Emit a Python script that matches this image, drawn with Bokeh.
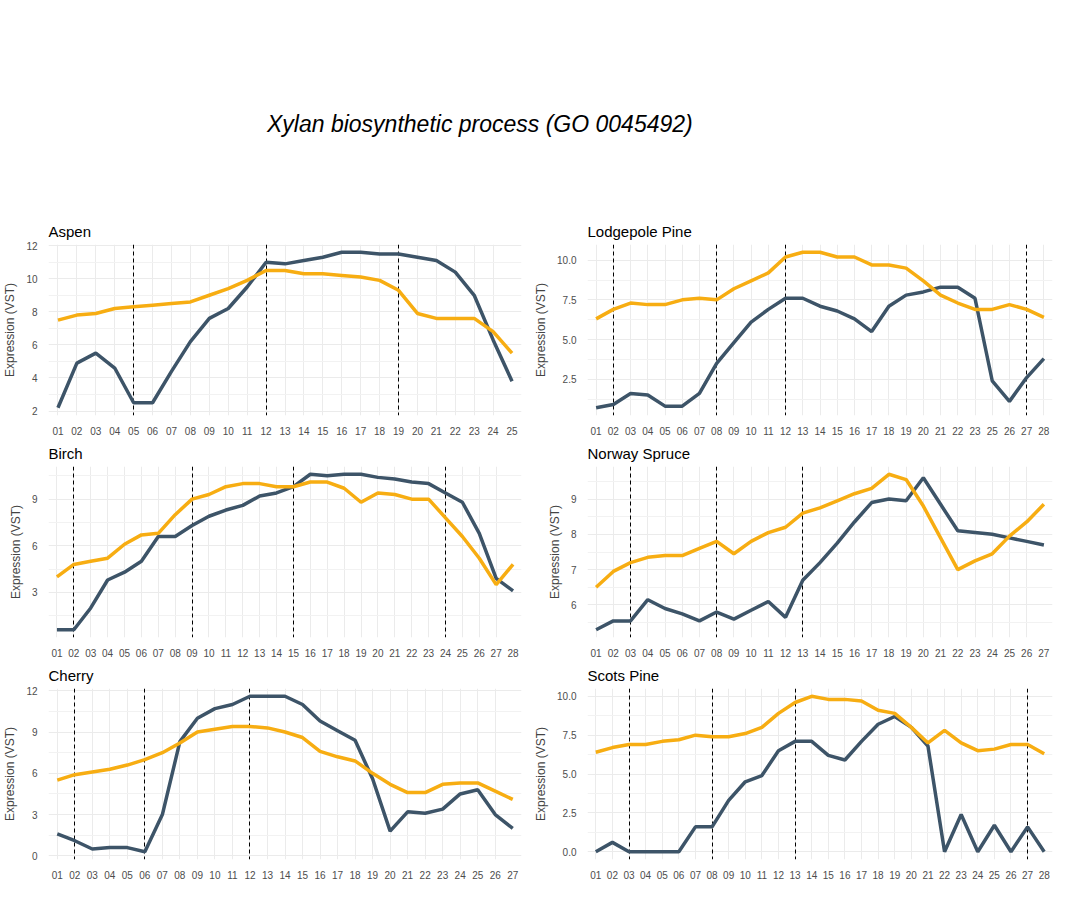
from bokeh.plotting import figure
from bokeh.models import FixedTicker, NumeralTickFormatter, Div, Range1d
from bokeh.layouts import gridplot, column
from bokeh.embed import file_html
from bokeh.resources import INLINE

DARK = "#3d5468"
ORANGE = "#f7ad12"

labels_25 = [f"{i:02d}" for i in range(1, 26)]
labels_27 = [f"{i:02d}" for i in range(1, 28)]
labels_28 = [f"{i:02d}" for i in range(1, 29)]
labels_lodgepole = [f"{i:02d}" for i in range(1, 24)] + ["25", "26", "27", "28"]

aspen_dark = [2.2, 4.9, 5.5, 4.6, 2.5, 2.5, 4.4, 6.2, 7.6, 8.2, 9.5, 11.0, 10.9, 11.1, 11.3, 11.6, 11.6, 11.5, 11.5, 11.3, 11.1, 10.4, 9.0, 6.3, 3.8]
aspen_orange = [7.5, 7.8, 7.9, 8.2, 8.3, 8.4, 8.5, 8.6, 9.0, 9.4, 9.9, 10.5, 10.5, 10.3, 10.3, 10.2, 10.1, 9.9, 9.3, 7.9, 7.6, 7.6, 7.6, 6.8, 5.5]
aspen_vlines = ["05", "12", "19"]

lodge_dark = [0.7, 0.9, 1.6, 1.5, 0.8, 0.8, 1.6, 3.5, 4.8, 6.1, 6.9, 7.6, 7.6, 7.1, 6.8, 6.3, 5.5, 7.1, 7.8, 8.0, 8.3, 8.3, 7.6, 2.4, 1.1, 2.6, 3.8]
lodge_orange = [6.3, 6.9, 7.3, 7.2, 7.2, 7.5, 7.6, 7.5, 8.2, 8.7, 9.2, 10.2, 10.5, 10.5, 10.2, 10.2, 9.7, 9.7, 9.5, 8.7, 7.8, 7.3, 6.9, 6.9, 7.2, 6.9, 6.4]
lodge_vlines = ["02", "08", "12", "27"]

birch_dark = [0.6, 0.6, 2.0, 3.8, 4.3, 5.0, 6.6, 6.6, 7.3, 7.9, 8.3, 8.6, 9.2, 9.4, 9.8, 10.6, 10.5, 10.6, 10.6, 10.4, 10.3, 10.1, 10.0, 9.4, 8.8, 6.8, 3.9, 3.1]
birch_orange = [4.0, 4.8, 5.0, 5.2, 6.1, 6.7, 6.8, 8.0, 9.0, 9.3, 9.8, 10.0, 10.0, 9.8, 9.8, 10.1, 10.1, 9.7, 8.8, 9.4, 9.3, 9.0, 9.0, 7.8, 6.6, 5.2, 3.5, 4.8]
birch_vlines = ["02", "09", "15", "24"]

spruce_dark = [5.3, 5.55, 5.55, 6.15, 5.9, 5.75, 5.55, 5.8, 5.6, 5.85, 6.1, 5.65, 6.7, 7.2, 7.75, 8.35, 8.9, 9.0, 8.95, 9.6, 8.85, 8.1, 8.05, 8.0, 7.9, 7.8, 7.7]
spruce_orange = [6.5, 6.95, 7.2, 7.35, 7.4, 7.4, 7.6, 7.8, 7.45, 7.8, 8.05, 8.2, 8.6, 8.75, 8.95, 9.15, 9.3, 9.7, 9.55, 8.8, 7.9, 7.0, 7.25, 7.45, 7.95, 8.35, 8.85]
spruce_vlines = ["03", "08", "13"]

cherry_dark = [1.6, 1.1, 0.5, 0.6, 0.6, 0.3, 3.0, 8.3, 10.0, 10.7, 11.0, 11.6, 11.6, 11.6, 11.0, 9.8, 9.1, 8.4, 5.6, 1.8, 3.2, 3.1, 3.4, 4.5, 4.8, 3.0, 2.0]
cherry_orange = [5.5, 5.9, 6.1, 6.3, 6.6, 7.0, 7.5, 8.2, 9.0, 9.2, 9.4, 9.4, 9.3, 9.0, 8.6, 7.6, 7.2, 6.9, 6.0, 5.2, 4.6, 4.6, 5.2, 5.3, 5.3, 4.7, 4.1]
cherry_vlines = ["02", "06", "12"]

scots_dark = [0.0, 0.6, 0.0, 0.0, 0.0, 0.0, 1.6, 1.6, 3.3, 4.5, 4.9, 6.5, 7.1, 7.1, 6.2, 5.9, 7.1, 8.2, 8.7, 8.0, 6.8, 0.0, 2.4, 0.0, 1.7, 0.0, 1.6, 0.0]
scots_orange = [6.4, 6.7, 6.9, 6.9, 7.1, 7.2, 7.5, 7.4, 7.4, 7.6, 8.0, 8.9, 9.6, 10.0, 9.8, 9.8, 9.7, 9.1, 8.9, 8.0, 7.0, 7.8, 7.0, 6.5, 6.6, 6.9, 6.9, 6.3]
scots_vlines = ["03", "08", "13", "27"]


def panel(name, x, dark, orange, vlines, ticks, fmt):
    lo = min(dark + orange)
    hi = max(dark + orange)
    pad = (hi - lo) * 0.05
    p = figure(title=name, x_range=x, y_range=Range1d(lo - pad, hi + pad),
               width=531, height=222, output_backend="svg", toolbar_location=None,
               min_border_left=10, min_border_right=10, min_border_top=5, min_border_bottom=8)
    p.title.text_font = "Liberation Sans"
    p.title.text_font_size = "15px"
    p.title.text_font_style = "normal"
    p.title.text_color = "#000000"
    p.outline_line_color = None
    for ax in (p.xaxis, p.yaxis):
        ax.axis_line_color = None
        ax.major_tick_line_color = None
        ax.minor_tick_line_color = None
        ax.major_label_text_font = "Liberation Sans"
        ax.major_label_text_font_size = "10px"
        ax.major_label_text_color = "#4d4d4d"
    p.yaxis.axis_label = "Expression (VST)"
    p.yaxis.axis_label_text_font = "Liberation Sans"
    p.yaxis.axis_label_text_font_style = "normal"
    p.yaxis.axis_label_text_font_size = "12px"
    p.yaxis.axis_label_standoff = 6
    step = ticks[1] - ticks[0]
    minors = [(a + b) / 2 for a, b in zip(ticks[:-1], ticks[1:])] + [ticks[0] - step / 2, ticks[-1] + step / 2]
    p.yaxis.ticker = FixedTicker(ticks=ticks, minor_ticks=minors)
    p.yaxis.formatter = NumeralTickFormatter(format=fmt)
    p.xgrid.grid_line_color = "#ebebeb"
    p.ygrid.grid_line_color = "#ebebeb"
    p.ygrid.minor_grid_line_color = "#f2f2f2"
    p.vspan(x=vlines, line_color="black", line_dash="4 3", line_width=1)
    p.line(x, dark, line_color=DARK, line_width=3.5)
    p.line(x, orange, line_color=ORANGE, line_width=3.5)
    return p


plots = [
    panel("Aspen", labels_25, aspen_dark, aspen_orange, aspen_vlines, [2, 4, 6, 8, 10, 12], "0"),
    panel("Lodgepole Pine", labels_lodgepole, lodge_dark, lodge_orange, lodge_vlines, [2.5, 5.0, 7.5, 10.0], "0.0"),
    panel("Birch", labels_28, birch_dark, birch_orange, birch_vlines, [3, 6, 9], "0"),
    panel("Norway Spruce", labels_27, spruce_dark, spruce_orange, spruce_vlines, [6, 7, 8, 9], "0"),
    panel("Cherry", labels_27, cherry_dark, cherry_orange, cherry_vlines, [0, 3, 6, 9, 12], "0"),
    panel("Scots Pine", labels_28, scots_dark, scots_orange, scots_vlines, [0.0, 2.5, 5.0, 7.5, 10.0], "0.0"),
]

title = Div(text="Xylan biosynthetic process (GO 0045492)", width=1063, height=205,
            styles={"font-family": "Liberation Sans", "font-style": "italic", "font-size": "23px",
                    "color": "#000000", "padding-top": "103px", "padding-left": "262px"})

grid = gridplot([plots[0:2], plots[2:4], plots[4:6]], toolbar_location=None)
layout = column(title, grid, spacing=0)

open("out.html", "w").write(file_html(layout, INLINE))
